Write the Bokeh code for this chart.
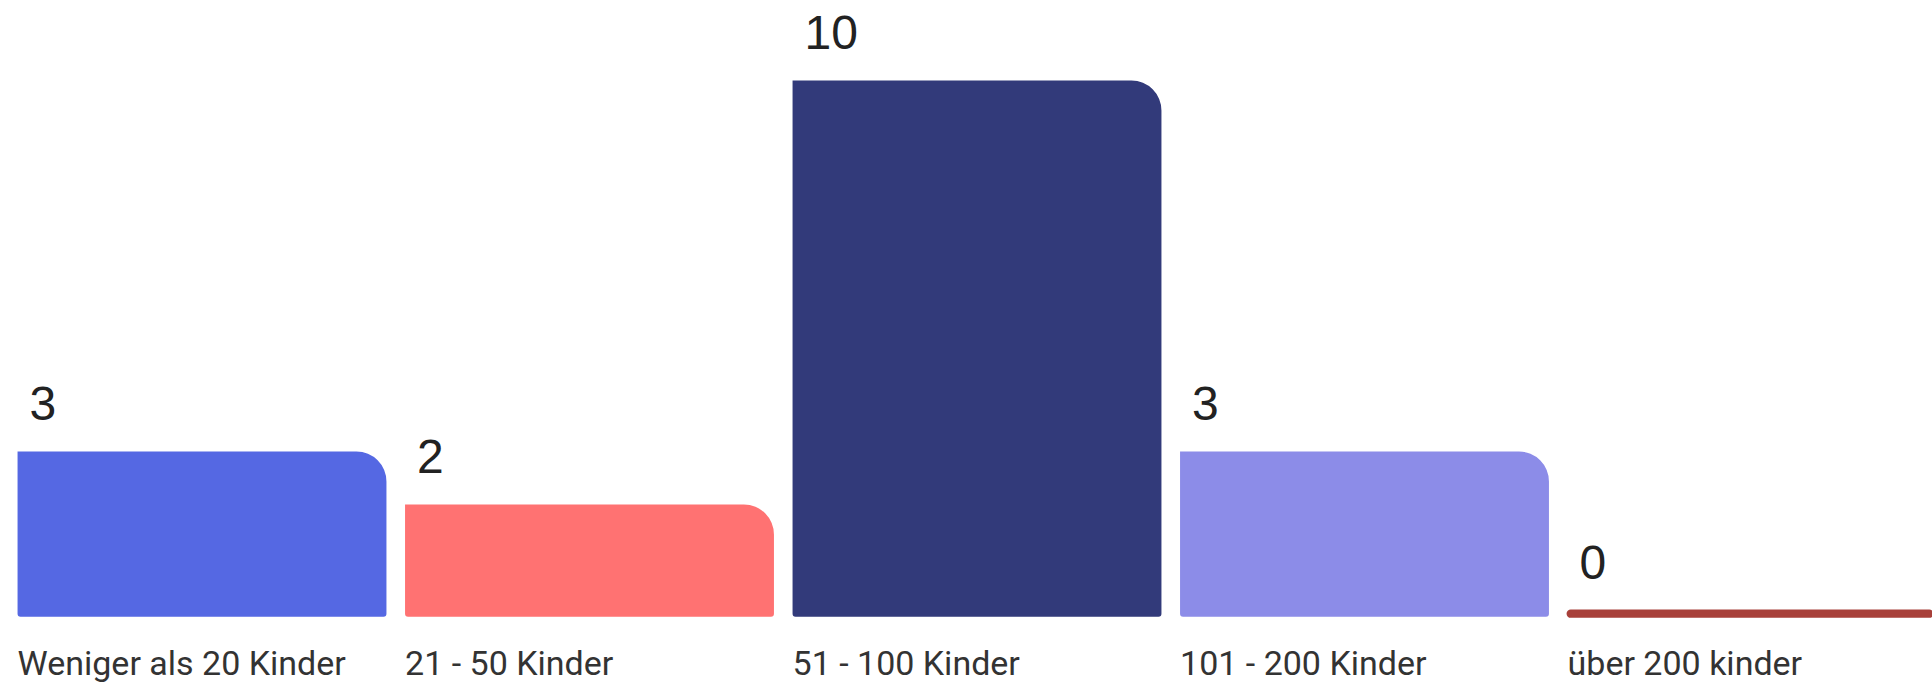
from bokeh.plotting import figure
from bokeh.models import ColumnDataSource, Range1d
from bokeh.core.properties import value
from bokeh.embed import file_html
from bokeh.resources import INLINE

# ---- data ----
categories = ["Weniger als 20 Kinder", "21 - 50 Kinder", "51 - 100 Kinder",
              "101 - 200 Kinder", "über 200 kinder"]
counts = [3, 2, 10, 3, 0]
bar_colors = ["#5568E3", "#FF7272", "#323A7A", "#8C8CE8", "#A8403A"]

# ---- style ----
BAR_W = 0.952
BASE = -0.12

xs = list(range(len(categories)))
lefts = [x - BAR_W / 2 for x in xs]

p = figure(width=1932, height=683,
           x_range=Range1d(-0.52, 4.4658), y_range=Range1d(-1.3774, 11.509),
           output_backend="svg", toolbar_location=None, min_border=0)
p.xaxis.visible = False
p.yaxis.visible = False
p.xgrid.visible = False
p.ygrid.visible = False
p.outline_line_color = None
p.background_fill_color = "white"
p.border_fill_color = "white"

nz = [i for i, c in enumerate(counts) if c > 0]
zz = [i for i, c in enumerate(counts) if c == 0]

src_nz = ColumnDataSource(dict(x=[xs[i] for i in nz], top=[counts[i] for i in nz],
                               color=[bar_colors[i] for i in nz]))
p.vbar(x="x", top="top", bottom=BASE, width=BAR_W, fill_color="color",
       line_color=None, border_radius=(0, 30, 3, 3), source=src_nz)

src_z = ColumnDataSource(dict(x=[xs[i] for i in zz], top=[counts[i] for i in zz],
                              color=[bar_colors[i] for i in zz]))
p.vbar(x="x", top="top", bottom=BASE, width=BAR_W, fill_color="color",
       line_color="color", line_width=2, border_radius=4, source=src_z)

# value labels
val_src = ColumnDataSource(dict(x=lefts, y=counts, t=[str(c) for c in counts]))
p.text(x="x", y="y", text="t", source=val_src, x_offset=12, y_offset=-48,
       text_font=value("Liberation Sans"), text_font_size="48px",
       text_color="#222222", text_align="left", text_baseline="alphabetic")

# category labels
cat_src = ColumnDataSource(dict(x=lefts, t=categories))
p.text(x="x", y=0, text="t", source=cat_src, x_offset=0, y_offset=53,
       text_font=value("Roboto"), text_font_size="34px",
       text_color="#333333", text_align="left", text_baseline="alphabetic")

open("out.html", "w").write(file_html(p, INLINE))
